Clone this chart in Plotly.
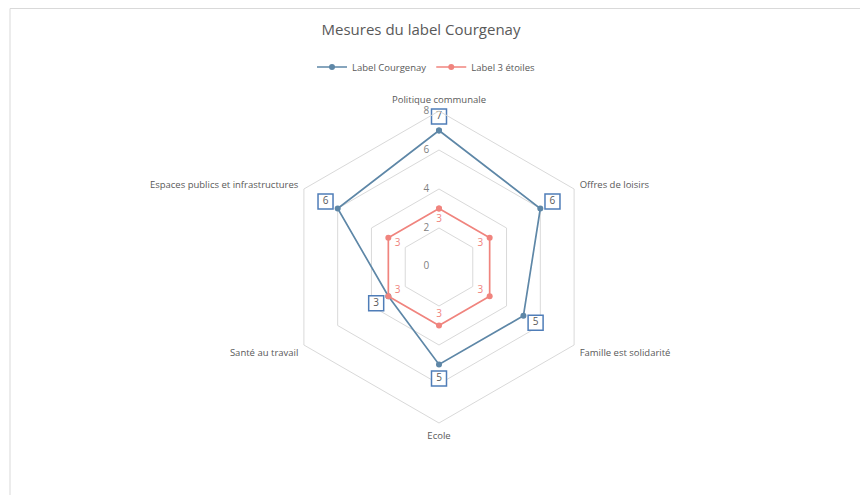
import plotly.graph_objects as go

categories = ["Politique communale", "Offres de loisirs", "Famille est solidarité",
              "Ecole", "Santé au travail", "Espaces publics et infrastructures"]
courgenay = [7, 6, 5, 5, 3, 6]
trois_etoiles = [3, 3, 3, 3, 3, 3]
radial_ticks = [0, 2, 4, 6, 8]

BLUE = "#5E87A7"
RED = "#F0847E"
GRID = "#D9D9D9"
TXT = "#595959"

W, H = 860, 487  # page body has an 8px margin
theta_closed = categories + categories[:1]

fig = go.Figure()

# radial tick labels, set just left of the vertical axis
fig.add_trace(go.Scatterpolar(
    r=[max(v, 0.02) for v in radial_ticks], theta=[categories[0]] * len(radial_ticks),
    mode="markers+text",
    text=[str(v) for v in radial_ticks], textposition="middle left",
    textfont=dict(color="#7F7F7F", size=10), cliponaxis=False,
    marker=dict(size=14, color="rgba(0,0,0,0)"),
    showlegend=False, hoverinfo="skip"))

fig.add_trace(go.Scatterpolar(
    r=courgenay + courgenay[:1], theta=theta_closed, mode="lines+markers",
    name="Label Courgenay", line=dict(color=BLUE, width=1.7),
    marker=dict(color=BLUE, size=6)))

fig.add_trace(go.Scatterpolar(
    r=trois_etoiles + trois_etoiles[:1], theta=theta_closed, mode="lines+markers",
    name="Label 3 étoiles", line=dict(color=RED, width=1.7),
    marker=dict(color=RED, size=6)))

# red data labels (inward of points)
fig.add_trace(go.Scatterpolar(
    r=[v - 0.55 for v in trois_etoiles], theta=categories, mode="text",
    text=[str(v) for v in trois_etoiles], textfont=dict(color=RED, size=10),
    showlegend=False, hoverinfo="skip"))

# blue boxed data labels (outward of points)
fig.add_trace(go.Scatterpolar(
    r=[v + 0.72 for v in courgenay], theta=categories, mode="markers+text",
    text=[str(v) for v in courgenay], textposition="middle center",
    textfont=dict(color=TXT, size=10),
    marker=dict(symbol="square", size=15, color="white",
                line=dict(color="#4F7DB8", width=1.5)),
    showlegend=False, hoverinfo="skip"))

cx, cy, rad = 431, 259, 156
fig.update_layout(
    width=W, height=H,
    margin=dict(l=0, r=0, t=0, b=0),
    paper_bgcolor="white", plot_bgcolor="white",
    font=dict(family="Open Sans, Liberation Sans, sans-serif", color=TXT, size=10),
    title=dict(text="Mesures du label Courgenay", x=413 / W, xanchor="center",
               y=1 - 22 / H, yanchor="middle",
               font=dict(size=15, color=TXT)),
    legend=dict(orientation="h", x=418 / W, xanchor="center", y=1 - 59 / H, yanchor="middle",
                font=dict(size=9.5, color=TXT)),
    polar=dict(
        domain=dict(x=[(cx - rad) / W, (cx + rad) / W],
                    y=[(H - cy - rad) / H, (H - cy + rad) / H]),
        bgcolor="white",
        gridshape="linear",
        radialaxis=dict(range=[0, 8], tickvals=radial_ticks, showline=False,
                        gridcolor=GRID, gridwidth=1, ticks="", angle=90,
                        showticklabels=False),
        angularaxis=dict(rotation=90, direction="clockwise", showgrid=False,
                         showline=True, linecolor=GRID, linewidth=1,
                         ticks="outside", ticklen=4, tickcolor="rgba(0,0,0,0)",
                         tickfont=dict(size=9.5, color=TXT)),
    ),
    shapes=[dict(type="rect", xref="paper", yref="paper",
                 x0=2 / W, x1=1.01, y0=-0.01, y1=1 - 0.5 / H,
                 line=dict(color=GRID, width=1), fillcolor="rgba(0,0,0,0)", layer="below")],
)

fig.write_html("out.html")
